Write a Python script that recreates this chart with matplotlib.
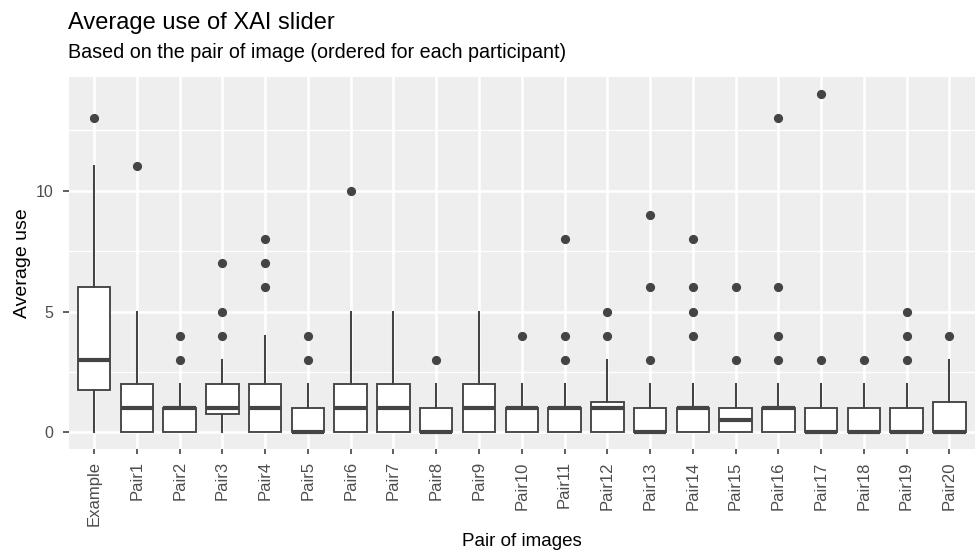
import matplotlib
matplotlib.use("Agg")
import matplotlib.pyplot as plt
from matplotlib.ticker import MultipleLocator

plt.rcParams['font.family'] = ['Liberation Sans', 'DejaVu Sans']

categories = ["Example"] + [f"Pair{i}" for i in range(1, 21)]
q1 =      [1.75, 0, 0, 0.75, 0, 0, 0, 0, 0, 0, 0, 0, 0,    0, 0, 0,   0, 0, 0, 0, 0]
median =  [3,    1, 1, 1,    1, 0, 1, 1, 0, 1, 1, 1, 1,    0, 1, 0.5, 1, 0, 0, 0, 0]
q3 =      [6,    2, 1, 2,    2, 1, 2, 2, 1, 2, 1, 1, 1.25, 1, 1, 1,   1, 1, 1, 1, 1.25]
whislo =  [0,    0, 0, 0,    0, 0, 0, 0, 0, 0, 0, 0, 0,    0, 0, 0,   0, 0, 0, 0, 0]
whishi =  [11,   5, 2, 3,    4, 2, 5, 5, 2, 5, 2, 2, 3,    2, 2, 2,   2, 2, 2, 2, 3]
outliers = [[13], [11], [3, 4], [4, 5, 7], [6, 7, 8], [3, 4], [10], [], [3], [],
            [4], [3, 4, 8], [4, 5], [3, 6, 9], [4, 5, 6, 8], [3, 6],
            [3, 4, 6, 13], [3, 14], [3], [3, 4, 5], [4]]

title = "Average use of XAI slider"
subtitle = "Based on the pair of image (ordered for each participant)"
xlabel = "Pair of images"
ylabel = "Average use"

W, H = 976, 552
fig = plt.figure(figsize=(W / 100, H / 100), dpi=100)
ax = fig.add_axes([68.5 / W, (H - 449.3) / H, (975 - 68.5) / W, (449.3 - 77) / H])

ax.set_facecolor("#EEEEEE")
for s in ax.spines.values():
    s.set_visible(False)

dark = "#444444"
stats = []
for i, c in enumerate(categories):
    stats.append(dict(label=c, q1=q1[i], med=median[i], q3=q3[i],
                      whislo=whislo[i], whishi=whishi[i], fliers=outliers[i]))
positions = list(range(1, len(categories) + 1))
ax.bxp(stats, positions=positions, widths=0.76, patch_artist=True, showcaps=False,
       boxprops=dict(facecolor="white", edgecolor=dark, linewidth=1.35),
       medianprops=dict(color=dark, linewidth=3.0, solid_capstyle="butt"),
       whiskerprops=dict(color=dark, linewidth=1.45),
       flierprops=dict(marker="o", markerfacecolor=dark, markeredgecolor=dark,
                       markersize=5.6, linestyle="none"),
       zorder=3)

ax.set_xlim(0.4, len(categories) + 0.6)
ax.set_ylim(-0.7, 14.7)
ax.set_xticks(positions)
ax.set_xticklabels(categories, rotation=90, fontsize=12, color="#4D4D4D")
ax.set_yticks([0, 5, 10])
ax.set_yticklabels(["0", "5", "10"], fontsize=11.5, color="#4D4D4D")
ax.yaxis.set_minor_locator(MultipleLocator(2.5))
ax.tick_params(axis="x", which="major", length=3.6, width=1.1, color="#333333", pad=5)
ax.tick_params(axis="y", which="major", length=4.3, width=1.1, color="#333333", pad=6.5)
ax.tick_params(axis="y", which="minor", length=0)
ax.grid(True, which="major", color="white", linewidth=1.9, zorder=0)
ax.grid(True, which="minor", axis="y", color="white", linewidth=0.95, zorder=0)
ax.set_axisbelow(True)

cx = (68.5 + 975) / 2 / W
fig.text(cx, 1 - 546 / H, xlabel, fontsize=13.5, ha="center", va="baseline")
fig.text(22.5 / W, 1 - 263 / H, ylabel, fontsize=14, ha="center", va="center", rotation=90)

fig.text(68.5 / W, 1 - 29 / H, title, fontsize=17, ha="left", va="baseline")
fig.text(68.5 / W, 1 - 58 / H, subtitle, fontsize=14.2, ha="left", va="baseline")

fig.savefig("out.png", dpi=100)
